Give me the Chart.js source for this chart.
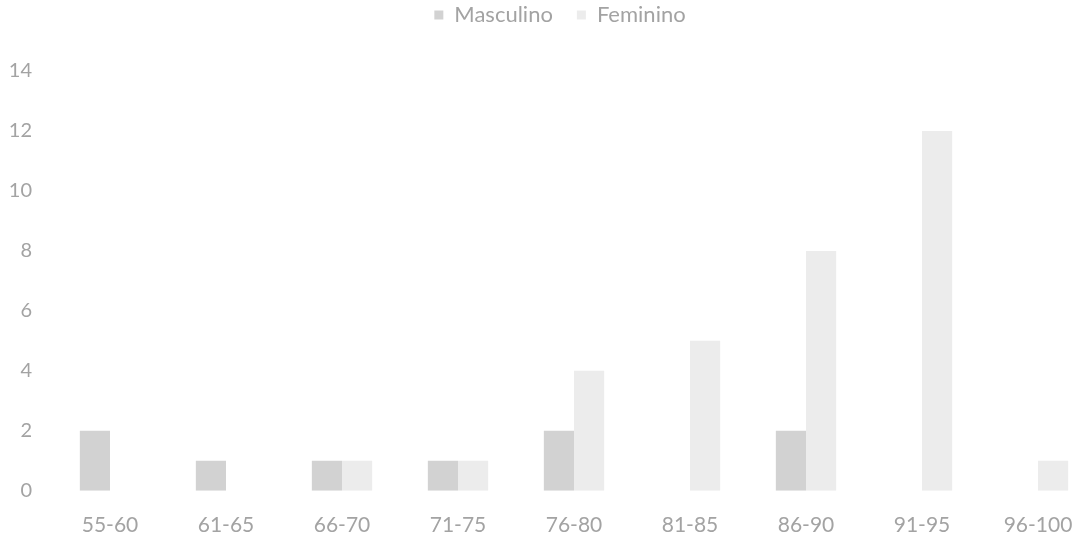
<!DOCTYPE html>
<html>
<head>
<meta charset="utf-8">
<script src="https://cdn.jsdelivr.net/npm/chart.js@4/dist/chart.umd.min.js"></script>
<style>
  html, body { margin: 0; padding: 0; background: #fff; overflow: hidden; }
  #wrap { width: 1076px; height: 538px; overflow: hidden; }
</style>
</head>
<body>
<div id="wrap"><canvas id="myChart" width="1096" height="552"></canvas></div>
<script>
// age bands and counts
var faixas = ['55-60', '61-65', '66-70', '71-75', '76-80', '81-85', '86-90', '91-95', '96-100'];
var masculino = [2, 1, 1, 1, 2, 0, 2, 0, 0];
var feminino = [0, 0, 1, 1, 4, 5, 8, 12, 1];
var yTicks = [0, 2, 4, 6, 8, 10, 12, 14];

var textColor = '#a3a3a3';
var fontFamily = 'Lato, "Open Sans", sans-serif';

// taller legend box so the plot starts lower, and nudge it a bit to the right
var legendTweak = {
  id: 'legendTweak',
  beforeInit: function (chart) {
    var origFit = chart.legend.fit;
    chart.legend.fit = function () {
      origFit.call(this);
      this.height = 91;
    };
  },
  afterLayout: function (chart) {
    chart.legend.left += 12;
    chart.legend.right += 12;
  }
};

var ctx = document.getElementById('myChart');

new Chart(ctx, {
  type: 'bar',
  data: {
    labels: faixas,
    datasets: [
      {
        label: 'Masculino',
        data: masculino,
        backgroundColor: '#d2d2d2'
      },
      {
        label: 'Feminino',
        data: feminino,
        backgroundColor: '#ececec'
      }
    ]
  },
  options: {
    responsive: false,
    animation: false,
    layout: {
      padding: { top: -20, right: 0, bottom: 0, left: 0 }
    },
    datasets: {
      bar: {
        categoryPercentage: 0.52,
        barPercentage: 1
      }
    },
    plugins: {
      legend: {
        position: 'top',
        labels: {
          color: textColor,
          font: { family: fontFamily, size: 22 },
          boxWidth: 9,
          boxHeight: 9,
          padding: 24
        }
      },
      tooltip: { enabled: false }
    },
    scales: {
      x: {
        grid: { display: false },
        border: { display: false },
        ticks: {
          color: textColor,
          font: { family: fontFamily, size: 21 },
          padding: 14,
          maxRotation: 0
        }
      },
      y: {
        min: 0,
        max: 14,
        grid: { display: false },
        border: { display: false },
        afterFit: function (scale) { scale.width = 52; },
        afterBuildTicks: function (scale) {
          scale.ticks = yTicks.map(function (v) { return { value: v }; });
        },
        ticks: {
          color: textColor,
          font: { family: fontFamily, size: 20 },
          padding: 12
        }
      }
    }
  },
  plugins: [legendTweak]
});
</script>
</body>
</html>
